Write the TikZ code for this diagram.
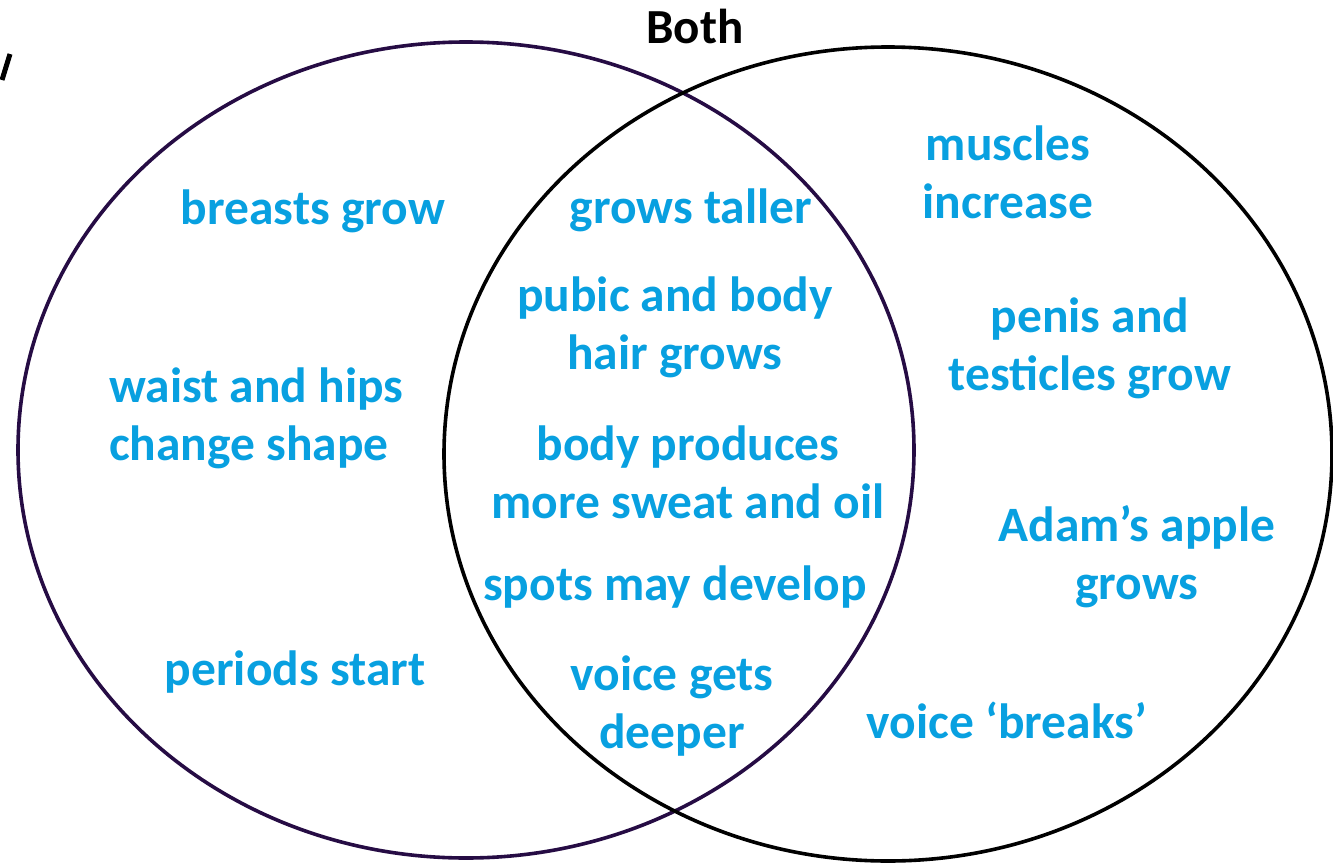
\documentclass[tikz,border=0pt]{standalone}
\usepackage{fontspec}
\setmainfont{Carlito}
\definecolor{txtblue}{RGB}{8,160,224}
\definecolor{girlring}{RGB}{38,12,68}
\begin{document}
\begin{tikzpicture}[x=1pt,y=-1pt,
  lbl/.style={font=\fontsize{49.5}{58}\selectfont\bfseries, text=txtblue, inner sep=0pt, align=center, anchor=base},
  lbll/.style={lbl, align=left, anchor=base west},
  ring/.style={line width=3.6pt}]
\useasboundingbox (0,0) rectangle (1333,862);
\draw[ring, girlring] (466,450) ellipse [x radius=448, y radius=408];
\draw[ring, black] (888,454) ellipse [x radius=444, y radius=407];
\draw[line width=5pt, black] (2,80) -- (10,54);
\node[font=\fontsize{49}{58}\selectfont\bfseries, inner sep=0pt, anchor=base] (both) at (695,43) {Both};
% girls only
\node[lbl] (breasts) at (313,224) {breasts grow};
\node[lbll] (waist) at (109,460) {waist and hips\\change shape};
\node[lbl] (periods) at (295,685) {periods start};
% both
\node[lbl] (taller) at (691,223) {grows taller};
\node[lbl] (hair) at (675,369) {pubic and body\\hair grows};
\node[lbl] (sweat) at (688,518) {body produces\\more sweat and oil};
\node[lbl] (spots) at (675,600) {spots may develop};
\node[lbl] (voice) at (672,748) {voice gets\\deeper};
% boys only
\node[lbl] (muscles) at (1008,218) {muscles\\increase};
\node[lbl] (penis) at (1090,390) {penis and\\testicles grow};
\node[lbl] (adam) at (1137,599) {Adam’s apple\\grows};
\node[lbl] (breaks) at (1007,738) {voice ‘breaks’};
\end{tikzpicture}
\end{document}
